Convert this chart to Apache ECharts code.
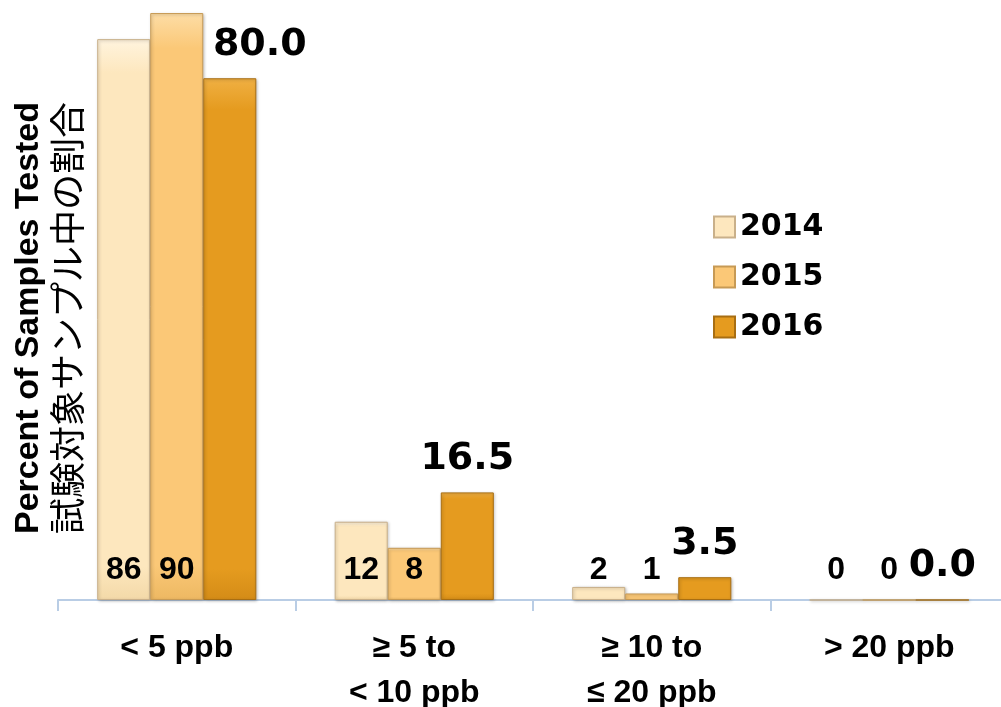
<!DOCTYPE html>
<html>
<head>
<meta charset="utf-8">
<script src="https://cdn.jsdelivr.net/npm/echarts@6/dist/echarts.min.js"></script>
<style>
  html, body { margin: 0; padding: 0; background: #ffffff; }
  #chart { width: 1001px; height: 707px; }
</style>
</head>
<body>
<div id="chart"></div>
<script>
// Concentration bands (ppb) on the x axis
const categories = ['< 5 ppb', '≥ 5 to\n< 10 ppb', '≥ 10 to\n≤ 20 ppb', '> 20 ppb'];
const years = ['2014', '2015', '2016'];
// Percent of samples tested, per year
const values2014 = [86, 12, 2, 0];
const values2015 = [90, 8, 1, 0];
const values2016 = [80.0, 16.5, 3.5, 0.0];

const fills = ['#FDE7BE', '#FBC877', '#E59B1F'];
const edges = ['#C9B08A', '#C79A55', '#A86E12'];
const lights = ['#FFF4DE', '#FDDDA6', '#F0B043'];
const darks = ['#F3D9A8', '#EDB862', '#D48C17'];

function barStyle(i) {
  return {
    color: {
      type: 'linear', x: 0, y: 0, x2: 0, y2: 1,
      colorStops: [
        { offset: 0, color: lights[i] },
        { offset: 0.06, color: fills[i] },
        { offset: 0.94, color: fills[i] },
        { offset: 1, color: darks[i] }
      ]
    },
    borderColor: edges[i],
    borderWidth: 1,
    shadowColor: 'rgba(0,0,0,0.25)',
    shadowBlur: 3,
    shadowOffsetX: 1,
    shadowOffsetY: 1
  };
}

const smallLabel = {
  show: true,
  position: 'insideBottom',
  distance: 14,
  fontFamily: 'Liberation Sans',
  fontWeight: 'bold',
  fontSize: 32,
  color: '#000000'
};

const bigLabel = {
  show: true,
  position: 'top',
  distance: 14,
  fontFamily: 'DejaVu Sans',
  fontWeight: 'bold',
  fontSize: 38,
  color: '#000000',
  formatter: p => p.value.toFixed(1)
};

const chart = echarts.init(document.getElementById('chart'));
chart.setOption({
  animation: false,
  backgroundColor: '#ffffff',
  grid: { left: 58, top: 0, width: 950, height: 600, outerBoundsMode: 'none', containLabel: false },
  legend: {
    orient: 'vertical',
    left: 708,
    top: 207,
    itemWidth: 21,
    itemHeight: 21,
    itemGap: 20,
    icon: 'rect',
    textStyle: {
      fontFamily: 'DejaVu Sans',
      fontWeight: 'bold',
      fontSize: 30,
      color: '#000000',
      lineHeight: 30
    },
    data: years
  },
  xAxis: {
    type: 'category',
    data: categories,
    axisLine: { lineStyle: { color: '#B9CDE5', width: 2 } },
    axisTick: { show: true, length: 11, lineStyle: { color: '#B9CDE5', width: 2 } },
    axisLabel: {
      margin: 26,
      fontFamily: 'Liberation Sans',
      fontWeight: 'bold',
      fontSize: 32,
      lineHeight: 45,
      color: '#000000'
    }
  },
  yAxis: {
    type: 'value',
    min: 0,
    max: 92,
    axisLine: { show: false },
    axisTick: { show: false },
    axisLabel: { show: false },
    splitLine: { show: false },
    name: '{en|Percent of Samples Tested}\n{ja|試験対象サンプル中の割合}',
    nameLocation: 'middle',
    nameRotate: 90,
    nameGap: -29,
    nameTextStyle: {
      padding: [0, 36, 0, 0],
      rich: {
        en: {
          fontFamily: 'Liberation Sans',
          fontWeight: 'bold',
          fontSize: 34,
          lineHeight: 39,
          color: '#000000'
        },
        ja: {
          fontFamily: 'Noto Sans CJK JP',
          fontSize: 36,
          lineHeight: 39,
          color: '#000000'
        }
      }
    }
  },
  series: [
    {
      name: years[0],
      type: 'bar',
      barGap: '0%',
      barCategoryGap: '33%',
      data: values2014,
      itemStyle: barStyle(0),
      label: smallLabel
    },
    {
      name: years[1],
      type: 'bar',
      barGap: '0%',
      barCategoryGap: '33%',
      data: values2015,
      itemStyle: barStyle(1),
      label: smallLabel
    },
    {
      name: years[2],
      type: 'bar',
      barGap: '0%',
      barCategoryGap: '33%',
      // the first label is nudged right so it clears the taller 2015 bar
      data: values2016.map((v, i) => i === 0 ? { value: v, label: { offset: [30, 0] } } : v),
      itemStyle: barStyle(2),
      label: bigLabel
    }
  ]
});
</script>
</body>
</html>
